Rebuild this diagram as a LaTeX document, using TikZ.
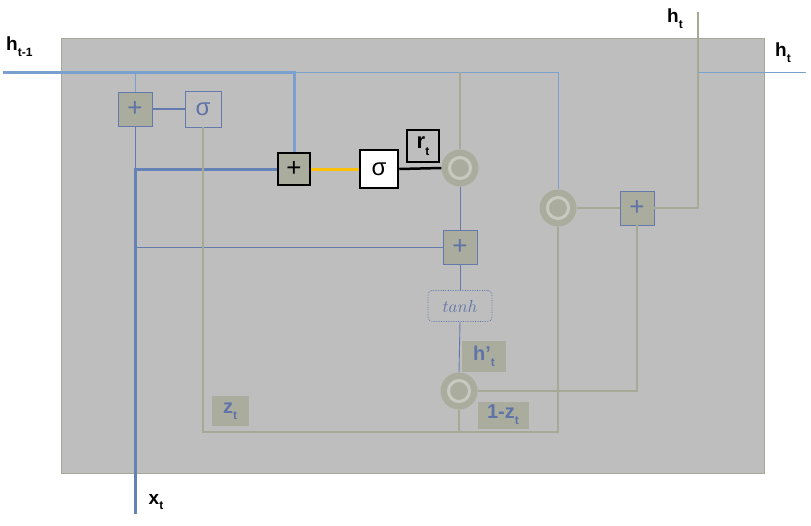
\documentclass[tikz,border=0pt]{standalone}
\usepackage{fontspec}
\setmainfont{Liberation Sans}
\definecolor{bg}{RGB}{190,190,190}
\definecolor{bgedge}{RGB}{168,168,150}
\definecolor{olive}{RGB}{170,173,157}
\definecolor{boxblue}{RGB}{100,122,172}
\definecolor{txtblue}{RGB}{95,115,168}
\definecolor{hblue}{RGB}{122,160,205}
\definecolor{xblue}{RGB}{100,130,182}
\definecolor{lgray}{RGB}{166,169,150}
\definecolor{ringin}{RGB}{200,201,192}
\definecolor{gold}{RGB}{255,192,0}
\newcommand{\sbs}[1]{\raisebox{-0.3em}{\fontsize{12}{12}\selectfont #1}}
\begin{document}
\begin{tikzpicture}[x=1pt,y=-1pt,
  bluebox/.style={draw=boxblue, line width=0.9pt, fill=olive, minimum size=34pt, inner sep=0pt, text=txtblue, font=\fontsize{26}{26}\selectfont},
  sigbox/.style={draw=boxblue, line width=0.9pt, minimum size=36pt, inner sep=0pt, text=txtblue, font=\fontsize{24}{24}\selectfont},
  blackbox/.style={draw=black, line width=2.5pt, fill=olive, minimum size=32pt, inner sep=0pt, font=\fontsize{26}{26}\selectfont},
  whitebox/.style={draw=black, line width=2.5pt, fill=white, minimum size=38pt, inner sep=0pt, font=\fontsize{24}{24}\selectfont},
  rbox/.style={draw=black, line width=2.5pt, minimum size=32pt, inner sep=0pt, font=\bfseries\fontsize{22}{22}\selectfont},
  ring/.style={circle, fill=olive, minimum size=37pt, inner sep=0pt,
    path picture={\draw[ringin, line width=3pt] (path picture bounding box.center) circle (10.5pt);}},
  tanhbox/.style={draw=boxblue, densely dotted, line width=0.7pt, rounded corners=4pt, minimum width=64pt, minimum height=31pt, inner sep=0pt, text=txtblue, font=\fontsize{19}{19}\selectfont},
  tag/.style={fill=olive, inner sep=0pt, text=txtblue, font=\bfseries\fontsize{20}{20}\selectfont},
  lbl/.style={inner sep=0pt, font=\bfseries\fontsize{19}{19}\selectfont},
  hline/.style={draw=hblue, line width=3pt},
  xline/.style={draw=xblue, line width=3pt},
  thinblue/.style={draw=boxblue, line width=0.9pt},
  thinh/.style={draw=hblue, line width=1pt},
  thingray/.style={draw=lgray, line width=1.2pt}
]
\useasboundingbox (0,0) rectangle (811,525);
\fill[bg, draw=bgedge, line width=1pt] (61,38) rectangle (764,473);

% free ends
\coordinate (hin) at (3,72);
\coordinate (xin) at (135,514);
\coordinate (htop) at (698,12);
\coordinate (hout) at (806,72);
\coordinate (bl) at (204,432);

% nodes
\node[bluebox] (p1) at (135,109) {+};
\node[sigbox] (s1) at (203,109) {σ};
\node[blackbox] (p2) at (294,169) {+};
\node[whitebox] (s2) at (379,169) {σ};
\node[rbox] (rt) at (423,146) {r\sbs{t}};
\node[ring] (c1) at (460,168) {};
\node[bluebox] (p3) at (460,247) {+};
\node[tanhbox] (th) at (460,306) {$tanh$};
\node[ring] (c2) at (459,391) {};
\node[ring] (c3) at (558,208) {};
\node[bluebox] (p4) at (637,208) {+};

\node[tag, minimum width=44pt, minimum height=31pt] (hp) at (484,356) {h'\sbs{t}};
\node[tag, minimum width=37pt, minimum height=30pt] (zt) at (230,411) {z\sbs{t}};
\node[tag, minimum width=51pt, minimum height=27pt] (omz) at (503,415) {1-z\sbs{t}};

\node[lbl, anchor=west] (lh1) at (6,47) {h\sbs{t-1}};
\node[lbl] (lh2) at (675,19) {h\sbs{t}};
\node[lbl] (lh3) at (783,53) {h\sbs{t}};
\node[lbl] (lx) at (156,502) {x\sbs{t}};

% connectors
\draw[thinh] (p2.north |- hin) -- (c3.north |- hin) -- (c3.north);
\draw[thinh] (p1.north |- hin) -- (p1.north);
\draw[thingray] (c1.north |- hin) -- (c1.north);
\draw[hline] (hin) -- (p2.north |- hin) -- (p2.north);
\draw[boxblue, line width=2.5pt] (p1) -- (s1);
\draw[thinblue] (p1.south) -- (p1.south |- p2);
\draw[thinblue] (xin |- p3) -- (p3.west);
\draw[xline] (xin) -- (xin |- p2) -- (p2.west);
\draw[gold, line width=3pt] (p2.east) -- (s2.west);
\draw[black, line width=2.5pt] (s2.east) -- (c1.west);
\draw[thinblue] (c1.south) -- (p3.north);
\draw[thinblue] (p3.south) -- (th.north);
\draw[thinblue] (th.south) -- (c2.north);
\draw[thingray] (s1.south) -- (s1.south |- bl) -- (c3.south |- bl) -- (c3.south);
\draw[thingray] (c2.south) -- (c2.south |- bl);
\draw[thingray] (c2.east) -- (c2.east -| p4.south) -- (p4.south);
\draw[thingray] (c3.east) -- (p4.west);
\draw[thingray] (p4.east) -- (p4.east -| htop) -- (htop);
\draw[thinh] (htop |- hout) -- (hout);
\end{tikzpicture}
\end{document}
